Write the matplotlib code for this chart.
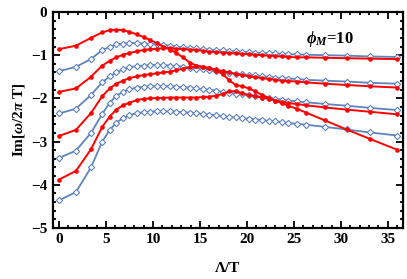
import numpy as np
import matplotlib
matplotlib.use("Agg")
import matplotlib.pyplot as plt
from matplotlib.ticker import MultipleLocator

# Lambda/T sample points (shared by all branches)
lam = [0, 1.8, 3.4, 4.6, 5.4, 6.1, 6.8, 7.5, 8.3, 9.0, 9.7, 10.4, 11.1, 11.8,
       12.5, 13.2, 13.9, 14.6, 15.3, 16.0, 16.7, 17.4, 18.1, 18.8, 19.5, 20.2,
       20.9, 21.6, 22.3, 23.0, 23.7, 24.4, 25.3, 26.3, 28.3, 30.6, 33.1, 36.0]

# Im[w/2piT], blue branches (open diamonds)
blue1 = [-1.37, -1.27, -1.09, -0.88, -0.81, -0.75, -0.73, -0.72, -0.72, -0.73,
         -0.74, -0.75, -0.76, -0.78, -0.80, -0.82, -0.83, -0.84, -0.86, -0.87,
         -0.88, -0.89, -0.90, -0.91, -0.92, -0.93, -0.94, -0.95, -0.95, -0.96,
         -0.97, -0.98, -0.98, -0.99, -1.00, -1.01, -1.03, -1.04]
blue2 = [-2.35, -2.24, -1.92, -1.63, -1.49, -1.40, -1.33, -1.28, -1.25, -1.24,
         -1.23, -1.23, -1.23, -1.24, -1.25, -1.27, -1.29, -1.31, -1.33, -1.35,
         -1.37, -1.39, -1.41, -1.43, -1.44, -1.46, -1.47, -1.49, -1.50, -1.52,
         -1.53, -1.54, -1.55, -1.57, -1.59, -1.61, -1.64, -1.66]
blue3 = [-3.38, -3.21, -2.80, -2.36, -2.10, -1.94, -1.85, -1.79, -1.75, -1.73,
         -1.72, -1.72, -1.72, -1.72, -1.73, -1.74, -1.75, -1.77, -1.79, -1.80,
         -1.82, -1.85, -1.87, -1.89, -1.91, -1.93, -1.95, -1.97, -1.99, -2.01,
         -2.03, -2.05, -2.07, -2.09, -2.13, -2.17, -2.22, -2.27]
blue4 = [-4.36, -4.17, -3.60, -3.00, -2.73, -2.56, -2.46, -2.39, -2.34, -2.32,
         -2.31, -2.30, -2.30, -2.30, -2.31, -2.32, -2.33, -2.34, -2.36, -2.38,
         -2.39, -2.41, -2.43, -2.44, -2.46, -2.47, -2.49, -2.50, -2.52, -2.53,
         -2.55, -2.57, -2.59, -2.61, -2.66, -2.72, -2.79, -2.86]

# red branches (filled dots)
red1 = [-0.86, -0.78, -0.60, -0.47, -0.42, -0.41, -0.42, -0.46, -0.52, -0.58,
        -0.65, -0.72, -0.80, -0.87, -0.95, -1.05, -1.17, -1.24, -1.27, -1.30,
        -1.36, -1.43, -1.58, -1.69, -1.72, -1.77, -1.84, -1.92, -1.99, -2.05,
        -2.11, -2.17, -2.24, -2.33, -2.51, -2.72, -2.94, -3.19]
red2 = [-1.85, -1.77, -1.50, -1.24, -1.13, -1.05, -0.99, -0.95, -0.91, -0.88,
        -0.86, -0.85, -0.84, -0.84, -0.85, -0.86, -0.87, -0.88, -0.90, -0.92,
        -0.93, -0.94, -0.95, -0.96, -0.97, -0.98, -0.99, -1.00, -1.01, -1.02,
        -1.03, -1.04, -1.05, -1.05, -1.06, -1.07, -1.08, -1.09]
red3 = [-2.87, -2.73, -2.34, -1.95, -1.77, -1.66, -1.59, -1.53, -1.49, -1.46,
        -1.44, -1.42, -1.40, -1.38, -1.35, -1.31, -1.28, -1.26, -1.27, -1.30,
        -1.33, -1.37, -1.40, -1.43, -1.46, -1.49, -1.51, -1.53, -1.55, -1.57,
        -1.59, -1.60, -1.61, -1.63, -1.66, -1.69, -1.72, -1.75]
red4 = [-3.88, -3.68, -3.18, -2.66, -2.42, -2.26, -2.16, -2.10, -2.04, -2.01,
        -2.00, -1.99, -1.99, -1.98, -1.98, -1.98, -1.98, -1.98, -1.97, -1.96,
        -1.94, -1.90, -1.84, -1.83, -1.88, -1.92, -1.95, -1.98, -2.01, -2.05,
        -2.08, -2.11, -2.13, -2.16, -2.21, -2.26, -2.31, -2.37]

BLUE = '#5f83bb'
RED = '#ff0000'

plt.rcParams['font.family'] = ['Liberation Serif', 'DejaVu Serif']
plt.rcParams['mathtext.fontset'] = 'custom'
plt.rcParams['mathtext.rm'] = 'Liberation Serif:bold'
plt.rcParams['mathtext.it'] = 'Liberation Serif:bold:italic'
plt.rcParams['mathtext.bf'] = 'Liberation Serif:bold'

fig = plt.figure(figsize=(4.07, 2.79), dpi=100)
ax = fig.add_axes([0.130, 0.183, 0.860, 0.774])

for b in [blue1, blue2, blue3, blue4]:
    ax.plot(lam, b, color=BLUE, lw=1.3, marker='D', ms=3.2, mfc='white',
            mec=BLUE, mew=0.8, zorder=2)
for r in [red1, red2, red3, red4]:
    ax.plot(lam, r, color=RED, lw=1.4, marker='o', ms=2.3, mfc=RED,
            mec=RED, zorder=3)

ax.set_xlim(-0.65, 36.6)
ax.set_ylim(-5, 0)
ax.xaxis.set_major_locator(MultipleLocator(5))
ax.xaxis.set_minor_locator(MultipleLocator(1))
ax.yaxis.set_major_locator(MultipleLocator(1))
ax.yaxis.set_minor_locator(MultipleLocator(0.2))
ax.tick_params(which='both', direction='in', top=True, right=True,
               width=1.3, labelsize=11, pad=4)
ax.tick_params(which='major', length=5)
ax.tick_params(which='minor', length=2.5)
for lab in ax.get_xticklabels() + ax.get_yticklabels():
    lab.set_fontweight('bold')
ax.set_yticks([0, -1, -2, -3, -4, -5])
ax.set_yticklabels(['0', '\u22121', '\u22122', '\u22123', '\u22124', '\u22125'],
                   fontweight='bold')
for s in ax.spines.values():
    s.set_linewidth(1.6)

ax.set_xlabel('\u039b/T', fontsize=11, fontweight='bold', labelpad=11)
ax.set_ylabel(r'Im[$\omega$/2$\pi$ T]', fontsize=11, fontweight='bold', labelpad=3)
ax.text(28.8, -0.62, r'$\phi_M$=10', fontsize=12, fontweight='bold',
        ha='center', va='center')

fig.savefig('out.png', dpi=100)
